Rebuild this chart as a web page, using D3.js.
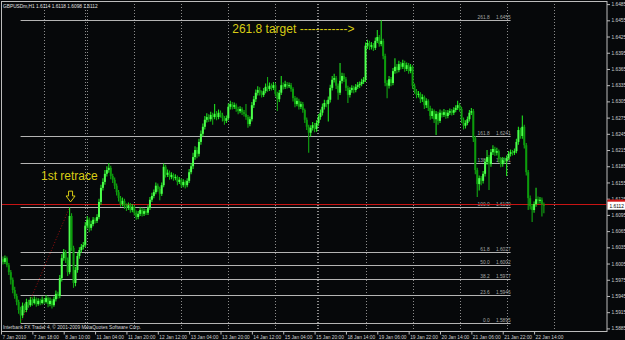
<!DOCTYPE html>
<html>
<head>
<meta charset="utf-8">
<script src="https://cdn.jsdelivr.net/npm/d3@7/dist/d3.min.js"></script>
<style>
  html, body { margin: 0; padding: 0; background: #06080a; }
  svg { display: block; }
  .tiny { font-family: "Liberation Sans", Arial, sans-serif; font-size: 4.8px; fill: #d0d0d0; }
  .note { font-family: "Liberation Sans", Arial, sans-serif; font-size: 12px; fill: #d8cc14; }
</style>
</head>
<body>
<svg id="chart" width="625" height="340"></svg>
<script>
const symbolLabel = 'GBPUSDm,H1';
const footerLabel = 'Interbank FX Trader 4, \u00a9 2001-2009 MetaQuotes Software Corp.';

// hourly bars, 7 Jan 2010 02:00 -> 22 Jan 2010
const open = [
  1.6010,1.6013,1.6008,1.6015,1.6002,1.5989,1.5975,1.5956,1.5945,1.5934,1.5919,
  1.5909,1.5927,1.5919,1.5934,1.5928,1.5938,1.5932,1.5939,1.5930,1.5936,
  1.5932,1.5938,1.5934,1.5941,1.5930,1.5936,1.5928,1.5939,1.5949,1.5945,
  1.5978,1.6015,1.6026,1.6012,1.5989,1.6093,1.6034,1.5969,1.5993,1.6019,
  1.6030,1.6036,1.6039,1.6075,1.6086,1.6071,1.6078,1.6086,1.6084,1.6091,
  1.6119,1.6145,1.6156,1.6171,1.6178,1.6182,1.6167,1.6160,1.6149,1.6137,
  1.6126,1.6115,1.6121,1.6111,1.6108,1.6113,1.6104,1.6110,1.6099,1.6091,
  1.6097,1.6104,1.6097,1.6102,1.6099,1.6108,1.6123,1.6130,1.6137,1.6149,
  1.6143,1.6134,1.6150,1.6184,1.6169,1.6173,1.6165,1.6169,1.6163,1.6165,
  1.6156,1.6160,1.6150,1.6156,1.6150,1.6158,1.6174,1.6185,1.6202,1.6215,
  1.6208,1.6230,1.6245,1.6258,1.6271,1.6276,1.6272,1.6280,1.6276,1.6282,
  1.6276,1.6284,1.6280,1.6274,1.6269,1.6274,1.6295,1.6300,1.6295,1.6298,
  1.6291,1.6287,1.6291,1.6285,1.6282,1.6276,1.6263,1.6272,1.6298,1.6309,
  1.6321,1.6326,1.6321,1.6317,1.6324,1.6332,1.6328,1.6334,1.6330,1.6335,
  1.6319,1.6309,1.6321,1.6335,1.6332,1.6337,1.6334,1.6335,1.6328,1.6311,
  1.6300,1.6306,1.6295,1.6300,1.6289,1.6271,1.6258,1.6247,1.6256,1.6261,
  1.6254,1.6265,1.6276,1.6284,1.6295,1.6302,1.6300,1.6308,1.6330,1.6345,
  1.6348,1.6334,1.6321,1.6343,1.6352,1.6346,1.6330,1.6317,1.6326,1.6330,
  1.6326,1.6332,1.6335,1.6337,1.6341,1.6345,1.6408,1.6413,1.6406,1.6409,
  1.6404,1.6417,1.6424,1.6411,1.6417,1.6389,1.6339,1.6334,1.6346,1.6339,
  1.6361,1.6369,1.6363,1.6374,1.6369,1.6376,1.6365,1.6372,1.6361,1.6369,
  1.6334,1.6324,1.6317,1.6319,1.6309,1.6313,1.6298,1.6306,1.6293,1.6278,
  1.6287,1.6272,1.6282,1.6269,1.6284,1.6280,1.6285,1.6278,1.6284,1.6287,
  1.6284,1.6289,1.6293,1.6298,1.6291,1.6271,1.6260,1.6265,1.6272,1.6284,
  1.6287,1.6237,1.6178,1.6152,1.6163,1.6158,1.6171,1.6193,1.6202,1.6189,
  1.6211,1.6217,1.6210,1.6213,1.6198,1.6189,1.6197,1.6195,1.6200,1.6208,
  1.6211,1.6210,1.6213,1.6230,1.6252,1.6241,1.6258,1.6224,1.6174,1.6126,
  1.6111,1.6104,1.6115,1.6124,1.6121,1.6123,1.6114
];
const high = [
  1.6020,1.6018,1.6020,1.6018,1.6006,1.5993,1.5979,1.5962,1.5949,1.5938,1.5925,
  1.5933,1.5931,1.5940,1.5938,1.5943,1.5942,1.5944,1.5942,1.5941,1.5940,
  1.5944,1.5941,1.5947,1.5944,1.5942,1.5940,1.5944,1.5955,1.5953,1.5984,
  1.6022,1.6032,1.6030,1.6016,1.6109,1.6098,1.6038,1.5999,1.6025,1.6035,
  1.6041,1.6045,1.6082,1.6093,1.6090,1.6084,1.6091,1.6090,1.6096,1.6125,
  1.6151,1.6163,1.6178,1.6185,1.6191,1.6186,1.6171,1.6164,1.6153,1.6141,
  1.6130,1.6127,1.6125,1.6116,1.6118,1.6117,1.6115,1.6113,1.6103,1.6102,
  1.6109,1.6108,1.6107,1.6106,1.6113,1.6128,1.6136,1.6142,1.6155,1.6153,
  1.6147,1.6155,1.6190,1.6188,1.6179,1.6177,1.6174,1.6172,1.6170,1.6168,
  1.6165,1.6163,1.6161,1.6159,1.6163,1.6180,1.6191,1.6210,1.6222,1.6220,
  1.6236,1.6251,1.6264,1.6278,1.6283,1.6281,1.6286,1.6284,1.6300,1.6287,
  1.6290,1.6288,1.6284,1.6278,1.6279,1.6301,1.6306,1.6304,1.6303,1.6301,
  1.6295,1.6296,1.6294,1.6289,1.6300,1.6280,1.6277,1.6304,1.6315,1.6327,
  1.6333,1.6331,1.6325,1.6330,1.6338,1.6350,1.6340,1.6338,1.6341,1.6339,
  1.6323,1.6326,1.6352,1.6340,1.6343,1.6341,1.6340,1.6339,1.6331,1.6315,
  1.6312,1.6310,1.6305,1.6304,1.6292,1.6275,1.6262,1.6261,1.6267,1.6265,
  1.6270,1.6281,1.6290,1.6301,1.6308,1.6307,1.6314,1.6336,1.6352,1.6356,
  1.6352,1.6338,1.6376,1.6358,1.6357,1.6350,1.6334,1.6331,1.6335,1.6334,
  1.6337,1.6341,1.6342,1.6347,1.6350,1.6414,1.6419,1.6417,1.6415,1.6413,
  1.6423,1.6437,1.6428,1.6455,1.6421,1.6393,1.6344,1.6352,1.6350,1.6367,
  1.6385,1.6374,1.6380,1.6378,1.6382,1.6380,1.6377,1.6376,1.6374,1.6372,
  1.6338,1.6328,1.6324,1.6322,1.6318,1.6316,1.6311,1.6309,1.6297,1.6292,
  1.6290,1.6287,1.6286,1.6290,1.6288,1.6291,1.6289,1.6289,1.6292,1.6291,
  1.6294,1.6298,1.6306,1.6302,1.6295,1.6275,1.6270,1.6277,1.6289,1.6293,
  1.6291,1.6241,1.6182,1.6168,1.6167,1.6176,1.6199,1.6215,1.6206,1.6217,
  1.6224,1.6221,1.6219,1.6216,1.6202,1.6202,1.6201,1.6205,1.6213,1.6216,
  1.6215,1.6218,1.6236,1.6258,1.6256,1.6279,1.6262,1.6228,1.6178,1.6131,
  1.6115,1.6120,1.6145,1.6129,1.6128,1.6127,1.6118
];
const low = [
  1.6005,1.6003,1.6004,1.5998,1.5984,1.5966,1.5950,1.5940,1.5928,1.5912,1.5895,
  1.5904,1.5914,1.5915,1.5923,1.5925,1.5927,1.5929,1.5925,1.5927,1.5928,
  1.5929,1.5930,1.5931,1.5924,1.5926,1.5922,1.5925,1.5935,1.5940,1.5941,
  1.5972,1.6010,1.6006,1.5982,1.5985,1.6028,1.5960,1.5963,1.5988,1.6014,
  1.6025,1.6031,1.6035,1.6070,1.6063,1.6066,1.6074,1.6079,1.6080,1.6087,
  1.6114,1.6140,1.6151,1.6166,1.6173,1.6161,1.6154,1.6143,1.6131,1.6120,
  1.6110,1.6111,1.6106,1.6102,1.6104,1.6099,1.6100,1.6094,1.6086,1.6087,
  1.6093,1.6092,1.6093,1.6095,1.6095,1.6104,1.6119,1.6126,1.6133,1.6138,
  1.6122,1.6130,1.6146,1.6164,1.6165,1.6160,1.6161,1.6158,1.6159,1.6150,
  1.6152,1.6145,1.6146,1.6144,1.6146,1.6154,1.6170,1.6180,1.6197,1.6200,
  1.6203,1.6225,1.6240,1.6253,1.6266,1.6267,1.6268,1.6262,1.6272,1.6270,
  1.6272,1.6275,1.6268,1.6262,1.6265,1.6270,1.6290,1.6290,1.6291,1.6286,
  1.6281,1.6283,1.6280,1.6277,1.6271,1.6256,1.6259,1.6268,1.6293,1.6304,
  1.6316,1.6316,1.6312,1.6313,1.6320,1.6323,1.6324,1.6325,1.6326,1.6314,
  1.6287,1.6304,1.6317,1.6327,1.6328,1.6329,1.6330,1.6323,1.6305,1.6294,
  1.6296,1.6290,1.6291,1.6284,1.6265,1.6252,1.6210,1.6240,1.6251,1.6248,
  1.6249,1.6260,1.6271,1.6279,1.6290,1.6294,1.6268,1.6303,1.6325,1.6340,
  1.6328,1.6308,1.6317,1.6338,1.6341,1.6324,1.6302,1.6312,1.6321,1.6320,
  1.6322,1.6328,1.6330,1.6333,1.6337,1.6341,1.6402,1.6400,1.6401,1.6398,
  1.6400,1.6413,1.6406,1.6407,1.6383,1.6333,1.6311,1.6329,1.6333,1.6335,
  1.6356,1.6357,1.6359,1.6364,1.6365,1.6360,1.6361,1.6356,1.6357,1.6328,
  1.6319,1.6311,1.6312,1.6302,1.6304,1.6291,1.6293,1.6287,1.6271,1.6273,
  1.6265,1.6243,1.6262,1.6265,1.6275,1.6276,1.6273,1.6274,1.6280,1.6279,
  1.6280,1.6285,1.6289,1.6286,1.6265,1.6253,1.6255,1.6261,1.6268,1.6280,
  1.6230,1.6170,1.6128,1.6140,1.6150,1.6153,1.6166,1.6188,1.6141,1.6184,
  1.6206,1.6204,1.6205,1.6192,1.6183,1.6184,1.6190,1.6167,1.6196,1.6203,
  1.6205,1.6206,1.6209,1.6225,1.6236,1.6236,1.6218,1.6168,1.6104,1.6105,
  1.6082,1.6099,1.6110,1.6115,1.6116,1.6092,1.6098
];
const close = [
  1.6013,1.6008,1.6015,1.6002,1.5989,1.5975,1.5956,1.5945,1.5934,1.5919,1.5909,
  1.5927,1.5919,1.5934,1.5928,1.5938,1.5932,1.5939,1.5930,1.5936,1.5932,
  1.5938,1.5934,1.5941,1.5930,1.5936,1.5928,1.5939,1.5949,1.5945,1.5978,
  1.6015,1.6026,1.6012,1.5989,1.6093,1.6034,1.5969,1.5993,1.6019,1.6030,
  1.6036,1.6039,1.6075,1.6086,1.6071,1.6078,1.6086,1.6084,1.6091,1.6119,
  1.6145,1.6156,1.6171,1.6178,1.6182,1.6167,1.6160,1.6149,1.6137,1.6126,
  1.6115,1.6121,1.6111,1.6108,1.6113,1.6104,1.6110,1.6099,1.6091,1.6097,
  1.6104,1.6097,1.6102,1.6099,1.6108,1.6123,1.6130,1.6137,1.6149,1.6143,
  1.6134,1.6150,1.6184,1.6169,1.6173,1.6165,1.6169,1.6163,1.6165,1.6156,
  1.6160,1.6150,1.6156,1.6150,1.6158,1.6174,1.6185,1.6202,1.6215,1.6208,
  1.6230,1.6245,1.6258,1.6271,1.6276,1.6272,1.6280,1.6276,1.6282,1.6276,
  1.6284,1.6280,1.6274,1.6269,1.6274,1.6295,1.6300,1.6295,1.6298,1.6291,
  1.6287,1.6291,1.6285,1.6282,1.6276,1.6263,1.6272,1.6298,1.6309,1.6321,
  1.6326,1.6321,1.6317,1.6324,1.6332,1.6328,1.6334,1.6330,1.6335,1.6319,
  1.6309,1.6321,1.6335,1.6332,1.6337,1.6334,1.6335,1.6328,1.6311,1.6300,
  1.6306,1.6295,1.6300,1.6289,1.6271,1.6258,1.6247,1.6256,1.6261,1.6254,
  1.6265,1.6276,1.6284,1.6295,1.6302,1.6300,1.6308,1.6330,1.6345,1.6348,
  1.6334,1.6321,1.6343,1.6352,1.6346,1.6330,1.6317,1.6326,1.6330,1.6326,
  1.6332,1.6335,1.6337,1.6341,1.6345,1.6408,1.6413,1.6406,1.6409,1.6404,
  1.6417,1.6424,1.6411,1.6417,1.6389,1.6339,1.6334,1.6346,1.6339,1.6361,
  1.6369,1.6363,1.6374,1.6369,1.6376,1.6365,1.6372,1.6361,1.6369,1.6334,
  1.6324,1.6317,1.6319,1.6309,1.6313,1.6298,1.6306,1.6293,1.6278,1.6287,
  1.6272,1.6282,1.6269,1.6284,1.6280,1.6285,1.6278,1.6284,1.6287,1.6284,
  1.6289,1.6293,1.6298,1.6291,1.6271,1.6260,1.6265,1.6272,1.6284,1.6287,
  1.6237,1.6178,1.6152,1.6163,1.6158,1.6171,1.6193,1.6202,1.6189,1.6211,
  1.6217,1.6210,1.6213,1.6198,1.6189,1.6197,1.6195,1.6200,1.6208,1.6211,
  1.6210,1.6213,1.6230,1.6252,1.6241,1.6258,1.6224,1.6174,1.6126,1.6111,
  1.6104,1.6115,1.6124,1.6121,1.6123,1.6115,1.6112
];

const timeTickBars = [0, 16, 32, 48, 64, 80, 96, 112, 128, 144, 160, 176, 192, 208, 224, 240, 256, 272];
const timeLabels = ['7 Jan 2010', '7 Jan 18:00', '8 Jan 10:00', '11 Jan 04:00', '11 Jan 20:00',
  '12 Jan 12:00', '13 Jan 04:00', '13 Jan 20:00', '14 Jan 12:00', '15 Jan 04:00', '15 Jan 20:00',
  '18 Jan 14:00', '19 Jan 06:00', '19 Jan 22:00', '20 Jan 14:00', '21 Jan 06:00', '21 Jan 22:00',
  '22 Jan 14:00'];
const gridBars = [22, 43, 44, 68, 92, 116, 140, 161, 162, 186, 210, 234, 258, 282];
const priceTicks = [1.5885, 1.5915, 1.5945, 1.5975, 1.6005, 1.6035, 1.6065, 1.6095, 1.6125,
  1.6155, 1.6185, 1.6215, 1.6245, 1.6275, 1.6305, 1.6335, 1.6365, 1.6395, 1.6425, 1.6455, 1.6485];

const fibLevels = ['0.0', '23.6', '38.2', '50.0', '61.8', '100.0', '138.2', '161.8', '261.8'];
const fibPrices = [1.5895, 1.5946, 1.5977, 1.6002, 1.6027, 1.6109, 1.6191, 1.6241, 1.6455];
const fibFrom = { bar: 10, price: 1.5895 };
const fibTo = { bar: 35, price: 1.6109 };
const fibEndBar = 260;

const askPrice = 1.6116;
const bidPrice = 1.6112;

const svg = d3.select('#chart');
const width = +svg.attr('width');
const height = +svg.attr('height');
const plot = { left: 1, top: 1, right: 606.5, bottom: 331 };

const xScale = d3.scaleLinear().domain([0, 309]).range([1, 606.6]);
const yScale = d3.scaleLinear().domain([1.5885, 1.6485]).range([328.4, 4.1]);
const fmt = d3.format('.4f');

svg.append('rect').attr('width', width).attr('height', height).attr('fill', '#06080a');

svg.append('clipPath').attr('id', 'plotClip')
  .append('rect')
    .attr('x', plot.left).attr('y', plot.top)
    .attr('width', plot.right - plot.left).attr('height', plot.bottom - plot.top);

const g = svg.append('g').attr('clip-path', 'url(#plotClip)');

// day separators
g.selectAll('.vgrid').data(gridBars)
  .enter().append('line')
    .attr('x1', d => Math.round(xScale(d)) + 0.5)
    .attr('x2', d => Math.round(xScale(d)) + 0.5)
    .attr('y1', plot.top)
    .attr('y2', plot.bottom)
    .attr('stroke', '#8c8c8c')
    .attr('stroke-dasharray', '1,2');

// fibonacci levels
const fibG = g.append('g');
fibG.selectAll('line').data(fibPrices)
  .enter().append('line')
    .attr('x1', xScale(fibFrom.bar))
    .attr('x2', xScale(fibEndBar))
    .attr('y1', d => Math.round(yScale(d)) + 0.5)
    .attr('y2', d => Math.round(yScale(d)) + 0.5)
    .attr('stroke', '#b4b4b4')
    .attr('stroke-width', 1);
fibG.selectAll('text.lvl').data(fibLevels)
  .enter().append('text')
    .attr('class', 'tiny lvl')
    .attr('x', xScale(fibEndBar) - 21)
    .attr('y', (d, i) => Math.round(yScale(fibPrices[i])) - 1)
    .attr('text-anchor', 'end')
    .style('fill', '#a8a8a8')
    .text(d => d);
fibG.selectAll('text.prc').data(fibPrices)
  .enter().append('text')
    .attr('class', 'tiny prc')
    .attr('x', xScale(fibEndBar))
    .attr('y', d => Math.round(yScale(d)) - 1)
    .attr('text-anchor', 'end')
    .style('fill', '#a8a8a8')
    .text(d => fmt(d));

// fibo trend line
g.append('line')
  .attr('x1', xScale(fibFrom.bar)).attr('y1', yScale(fibFrom.price))
  .attr('x2', xScale(fibTo.bar)).attr('y2', yScale(fibTo.price))
  .attr('stroke', '#a01010')
  .attr('stroke-dasharray', '1,2');

// ask line
g.append('line')
  .attr('x1', plot.left).attr('x2', plot.right)
  .attr('y1', Math.round(yScale(askPrice)) + 0.5)
  .attr('y2', Math.round(yScale(askPrice)) + 0.5)
  .attr('stroke', '#c81414')
  .attr('stroke-width', 1);

// candles
const bars = close.map((c, i) => ({ i, o: open[i], h: high[i], l: low[i], c }));
const candleG = g.append('g');
candleG.selectAll('line').data(bars)
  .enter().append('line')
    .attr('x1', d => xScale(d.i))
    .attr('x2', d => xScale(d.i))
    .attr('y1', d => yScale(d.h))
    .attr('y2', d => yScale(d.l))
    .attr('stroke', d => d.c >= d.o ? '#1ee01e' : '#12a812')
    .attr('stroke-width', 1.1);
candleG.selectAll('rect').data(bars)
  .enter().append('rect')
    .attr('x', d => xScale(d.i) - 1)
    .attr('width', 2)
    .attr('y', d => yScale(Math.max(d.o, d.c)))
    .attr('height', d => Math.max(1, Math.abs(yScale(d.o) - yScale(d.c))))
    .attr('fill', d => d.c >= d.o ? '#4cff4c' : '#0c9c0c');

// annotations
const noteG = svg.append('g');
noteG.append('text')
  .attr('class', 'note')
  .attr('x', xScale(118)).attr('y', yScale(1.6432))
  .text('261.8 target ------------>');
noteG.append('text')
  .attr('class', 'note')
  .attr('x', xScale(20.4)).attr('y', yScale(1.6160))
  .text('1st retrace');
const ax = xScale(35.5);
const aTop = yScale(1.6139);
const aBot = yScale(1.6119);
const aMid = aTop + (aBot - aTop) * 0.45;
noteG.append('path')
  .attr('d', `M${ax - 2},${aTop} H${ax + 2} V${aMid} H${ax + 4.5} L${ax},${aBot} L${ax - 4.5},${aMid} H${ax - 2} Z`)
  .attr('fill', 'none')
  .attr('stroke', '#d8cc14')
  .attr('stroke-width', 1);

// frame
svg.append('rect')
  .attr('x', plot.left + 0.5).attr('y', plot.top + 0.5)
  .attr('width', plot.right - plot.left).attr('height', plot.bottom - plot.top)
  .attr('fill', 'none')
  .attr('stroke', '#bcbcbc');

// price axis
const yAxis = d3.axisRight(yScale)
  .tickValues(priceTicks)
  .tickFormat(fmt)
  .tickSize(3)
  .tickPadding(1.5);
const yAxisG = svg.append('g')
  .attr('transform', `translate(${plot.right + 0.5},0)`)
  .call(yAxis);
yAxisG.select('.domain').remove();
yAxisG.selectAll('line').attr('stroke', '#bcbcbc');
yAxisG.selectAll('text').attr('class', 'tiny').attr('fill', null).style('font-size', null);

// time axis
const xAxis = d3.axisBottom(xScale)
  .tickValues(timeTickBars)
  .tickFormat((d, i) => timeLabels[i])
  .tickSize(3)
  .tickPadding(1);
const xAxisG = svg.append('g')
  .attr('transform', `translate(0,${plot.bottom + 0.5})`)
  .call(xAxis);
xAxisG.select('.domain').remove();
xAxisG.selectAll('line').attr('stroke', '#bcbcbc');
xAxisG.selectAll('text')
  .attr('class', 'tiny')
  .attr('fill', null)
  .attr('text-anchor', 'start')
  .attr('dx', 1);

// current price boxes
const priceBox = [
  { price: askPrice, fill: '#d01414' },
  { price: bidPrice, fill: '#ffffff' }
];
const boxG = svg.append('g');
boxG.selectAll('rect').data(priceBox)
  .enter().append('rect')
    .attr('x', plot.right + 1)
    .attr('y', d => yScale(d.price) - 4)
    .attr('width', width - plot.right - 1)
    .attr('height', 8)
    .attr('fill', d => d.fill);
boxG.append('text')
  .attr('class', 'tiny')
  .attr('x', plot.right + 3)
  .attr('y', yScale(bidPrice) + 1.8)
  .style('fill', '#000')
  .text(fmt(bidPrice));

// header and footer
const last = close.length - 1;
svg.append('text')
  .attr('class', 'tiny')
  .attr('x', 3).attr('y', 7.5)
  .style('fill', '#e0e0e0')
  .text(`${symbolLabel}  ${fmt(open[last])} ${fmt(high[last])} ${fmt(low[last])} ${fmt(close[last])}`);
svg.append('text')
  .attr('class', 'tiny')
  .attr('x', 3).attr('y', 329)
  .style('fill', '#d8d8d8')
  .text(footerLabel);
</script>
</body>
</html>
